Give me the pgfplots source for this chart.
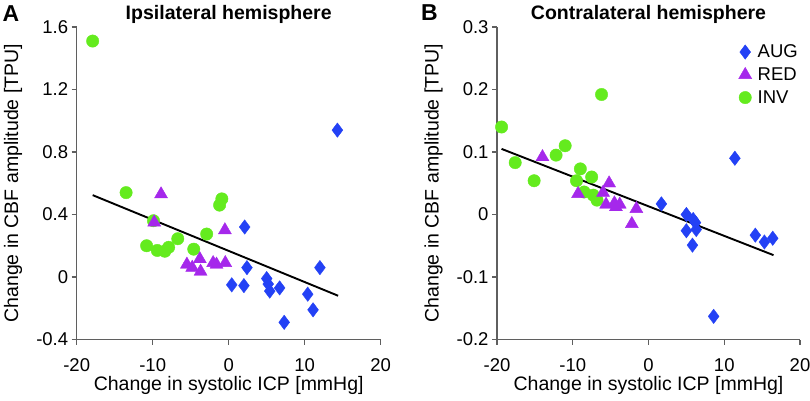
\documentclass[border=0pt]{standalone}
\usepackage{pgfplots}
\pgfplotsset{compat=1.18}
\usepackage{fontspec}
\setmainfont{Liberation Sans}
\definecolor{augc}{RGB}{35,65,245}
\definecolor{redc}{RGB}{165,40,235}
\definecolor{invc}{RGB}{100,235,30}
\definecolor{axc}{RGB}{95,95,95}
\pgfplotsset{
  panel/.style={
    scale only axis,
    width=304pt, height=312.5pt,
    xmin=-20, xmax=20,
    axis x line*=bottom, axis y line*=left,
    axis line style={axc, line width=1.3pt},
    tick style={axc, line width=1.1pt},
    major tick length=5pt,
    tick align=outside,
    xtick={-20,-10,0,10,20},
    xticklabels={-20,-10,0,10,20},
    ticklabel style={font=\fontsize{18.5}{20}\selectfont},
    xticklabel style={yshift=-10.5pt},
    label style={font=\fontsize{19.5}{22}\selectfont},
    xlabel style={at={(axis description cs:0.5,0)}, anchor=base, yshift=-50.5pt},
    ylabel style={at={(axis description cs:0,0.5)}, anchor=base, yshift=58.5pt},
    title style={at={(axis description cs:0.5,1)}, anchor=base, yshift=1pt, font=\fontsize{19.5}{22}\selectfont\bfseries},
    xlabel={Change in systolic ICP [mmHg]},
    ylabel={Change in CBF amplitude [TPU]},
    clip=false,
  },
  augm/.style={only marks, mark=diamond*, mark size=7.2pt, color=augc, mark options={draw=augc, fill=augc}},
  redm/.style={only marks, mark=triangle*, mark size=7.5pt, color=redc, mark options={draw=redc, fill=redc}},
  invm/.style={only marks, mark=*, mark size=6.2pt, color=invc, mark options={draw=invc, fill=invc}},
}
\begin{document}
\begin{tikzpicture}
\useasboundingbox (0pt,0pt) rectangle (810pt,400pt);
\node[anchor=base west, inner sep=0, font=\fontsize{23}{25}\selectfont\bfseries] at (2.5pt,378.5pt) {A};
\node[anchor=base west, inner sep=0, font=\fontsize{23}{25}\selectfont\bfseries] at (421pt,379pt) {B};
\begin{axis}[panel, at={(76.7pt,60.5pt)}, anchor=south west,
  ymin=-0.4, ymax=1.6,
  ytick={-0.4,0,0.4,0.8,1.2,1.6},
  yticklabels={-0.4,0,0.4,0.8,1.2,1.6},
  title={Ipsilateral hemisphere}]
\addplot[invm] coordinates {(-17.9,1.51) (-13.5,0.54) (-0.9,0.50) (-1.2,0.46) (-9.9,0.36) (-10.8,0.20) (-9.4,0.17) (-8.4,0.165) (-7.9,0.19) (-6.7,0.245) (-2.9,0.275) (-4.6,0.178)};
\addplot[redm] coordinates {(-8.9,0.53) (-9.8,0.35) (-0.5,0.30) (-5.5,0.08) (-4.8,0.06) (-3.8,0.115) (-3.7,0.035) (-2.05,0.09) (-1.6,0.08) (-0.45,0.09)};
\addplot[augm] coordinates {(14.3,0.94) (2.1,0.32) (2.4,0.06) (0.4,-0.05) (2.0,-0.055) (5.0,-0.01) (5.2,-0.045) (5.4,-0.09) (6.7,-0.07) (7.3,-0.29) (10.4,-0.11) (11.1,-0.21) (12.0,0.06)};
\addplot[black, line width=1.9pt, no marks] coordinates {(-17.9,0.524) (14.4,-0.12)};
\end{axis}
\begin{axis}[panel, at={(497pt,60.5pt)}, anchor=south west, width=303pt,
  ymin=-0.2, ymax=0.3,
  ytick={-0.2,-0.1,0,0.1,0.2,0.3},
  yticklabels={-0.2,-0.1,0,0.1,0.2,0.3},
  title={Contralateral hemisphere},
  legend style={draw=none, fill=none, at={(1,0.95)}, anchor=north east,
    font=\fontsize{18.5}{20}\selectfont, cells={anchor=west}, row sep=4.5pt, inner sep=0pt,
    /tikz/every odd column/.append style={column sep=4pt}},
  legend cell align=left]
\addlegendimage{augm}
\addlegendentry{AUG}
\addlegendimage{redm}
\addlegendentry{RED}
\addlegendimage{invm}
\addlegendentry{INV}
\addplot[invm, forget plot] coordinates {(-19.4,0.14) (-17.6,0.083) (-15.1,0.054) (-12.2,0.095) (-11.0,0.11) (-9.0,0.073) (-9.5,0.054) (-7.5,0.06) (-8.5,0.036) (-7.3,0.031) (-6.8,0.023) (-6.2,0.192)};
\addplot[redm, forget plot] coordinates {(-14.0,0.092) (-9.3,0.033) (-5.2,0.05) (-6.0,0.035) (-5.6,0.016) (-4.5,0.018) (-3.8,0.016) (-4.3,0.012) (-1.6,0.009) (-2.2,-0.015)};
\addplot[augm, forget plot] coordinates {(11.4,0.09) (1.7,0.017) (5.0,0.0) (5.9,-0.008) (6.2,-0.013) (5.0,-0.026) (6.3,-0.024) (5.8,-0.049) (14.1,-0.033) (15.3,-0.044) (16.4,-0.038) (8.6,-0.163)};
\addplot[black, line width=1.9pt, no marks, forget plot] coordinates {(-19.4,0.105) (16.5,-0.065)};
\end{axis}
\end{tikzpicture}
\end{document}
